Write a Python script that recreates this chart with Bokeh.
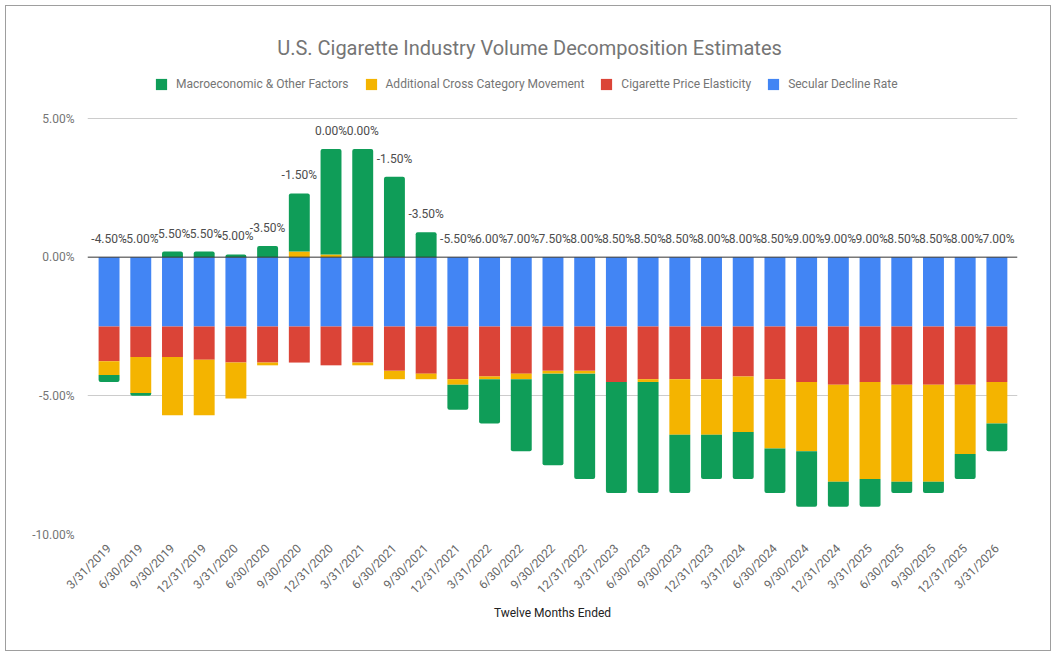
from bokeh.plotting import figure
from bokeh.models import (ColumnDataSource, Range1d, FixedTicker, Span, Legend,
                          LegendItem, Label)
from bokeh.embed import file_html
from bokeh.resources import INLINE
from bokeh.core.properties import value
import math

# Twelve months ended (quarter ends)
periods = ["3/31/2019", "6/30/2019", "9/30/2019", "12/31/2019", "3/31/2020",
           "6/30/2020", "9/30/2020", "12/31/2020", "3/31/2021", "6/30/2021",
           "9/30/2021", "12/31/2021", "3/31/2022", "6/30/2022", "9/30/2022",
           "12/31/2022", "3/31/2023", "6/30/2023", "9/30/2023", "12/31/2023",
           "3/31/2024", "6/30/2024", "9/30/2024", "12/31/2024", "3/31/2025",
           "6/30/2025", "9/30/2025", "12/31/2025", "3/31/2026"]

# Volume components, percentage points
secular_decline = [-2.5, -2.5, -2.5, -2.5, -2.5, -2.5, -2.5, -2.5, -2.5, -2.5,
                   -2.5, -2.5, -2.5, -2.5, -2.5, -2.5, -2.5, -2.5, -2.5, -2.5,
                   -2.5, -2.5, -2.5, -2.5, -2.5, -2.5, -2.5, -2.5, -2.5]
price_elasticity = [-1.25, -1.1, -1.1, -1.2, -1.3, -1.3, -1.3, -1.4, -1.3, -1.6,
                    -1.7, -1.9, -1.8, -1.7, -1.6, -1.6, -2.0, -1.9, -1.9, -1.9,
                    -1.8, -1.9, -2.0, -2.1, -2.0, -2.1, -2.1, -2.1, -2.0]
cross_category = [-0.5, -1.3, -2.1, -2.0, -1.3, -0.1, 0.2, 0.1, -0.1, -0.3,
                  -0.2, -0.2, -0.1, -0.2, -0.1, -0.1, 0.0, -0.1, -2.0, -2.0,
                  -2.0, -2.5, -2.5, -3.5, -3.5, -3.5, -3.5, -2.5, -1.5]
macro_other = [-0.25, -0.1, 0.2, 0.2, 0.1, 0.4, 2.1, 3.8, 3.9, 2.9,
               0.9, -0.9, -1.6, -2.6, -3.3, -3.8, -4.0, -4.0, -2.1, -1.6,
               -1.7, -1.6, -2.0, -0.9, -1.0, -0.4, -0.4, -0.9, -1.0]

y_ticks = [-10, -5, 0, 5]

series = [
    ("Secular Decline Rate", secular_decline, "#4285f4"),
    ("Cigarette Price Elasticity", price_elasticity, "#db4437"),
    ("Additional Cross Category Movement", cross_category, "#f4b400"),
    ("Macroeconomic & Other Factors", macro_other, "#0f9d58"),
]

FONT = "Roboto"
n = len(periods)
xs = list(range(n))
BAR_W = 0.66

# Canvas 1046x646; the data area (-10 .. 5) is 416px tall and its top sits 112px
# below the canvas top; the frame runs to the canvas top so the header fits inside.
W, H = 1046, 646
LEFT, RIGHT, BOTTOM = 81, 35, 118
PLOT_H, HEADER = 416, 112
px_per_unit = PLOT_H / 15.0
y_top = 5 + HEADER / px_per_unit
frame_h = H - BOTTOM

p = figure(width=W, height=H, output_backend="svg", toolbar_location=None,
           x_range=Range1d(-0.68, 28.65), y_range=Range1d(-10, y_top),
           min_border_left=LEFT, min_border_right=RIGHT, min_border_top=0,
           min_border_bottom=BOTTOM)
p.margin = (5, 0, 0, 5)
p.styles = {"border": "1px solid #9e9e9e"}
p.outline_line_color = None
p.background_fill_color = "white"
p.border_fill_color = "white"

# Stack positives upward and negatives downward, in series order
pos_base = [0.0] * n
neg_base = [0.0] * n
renderers = {}
for name, vals, color in series:
    bottoms, tops = [], []
    for i, v in enumerate(vals):
        if v >= 0:
            bottoms.append(pos_base[i])
            tops.append(pos_base[i] + v)
            pos_base[i] += v
        else:
            tops.append(neg_base[i])
            bottoms.append(neg_base[i] + v)
            neg_base[i] += v
    if name == "Macroeconomic & Other Factors":
        up = [i for i, v in enumerate(vals) if v >= 0]
        dn = [i for i, v in enumerate(vals) if v < 0]
        src_up = ColumnDataSource(dict(x=[xs[i] for i in up],
                                       top=[tops[i] for i in up],
                                       bottom=[bottoms[i] for i in up]))
        src_dn = ColumnDataSource(dict(x=[xs[i] for i in dn],
                                       top=[tops[i] for i in dn],
                                       bottom=[bottoms[i] for i in dn]))
        p.vbar(x="x", top="top", bottom="bottom", width=BAR_W, source=src_up,
               fill_color=color, line_color=None, border_radius=(2, 2, 0, 0))
        r = p.vbar(x="x", top="top", bottom="bottom", width=BAR_W, source=src_dn,
                   fill_color=color, line_color=None, border_radius=(0, 0, 2, 2))
    else:
        src = ColumnDataSource(dict(x=xs, top=tops, bottom=bottoms))
        r = p.vbar(x="x", top="top", bottom="bottom", width=BAR_W, source=src,
                   fill_color=color, line_color=None)
    renderers[name] = r

# Net change labels above each stack
totals = [round(a + b + c + d, 2) + 0.0 for a, b, c, d in
          zip(secular_decline, price_elasticity, cross_category, macro_other)]
label_src = ColumnDataSource(dict(
    x=xs, y=pos_base, text=[f"{t:.2f}%" for t in totals]))
p.text(x="x", y="y", text="text", source=label_src, y_offset=-18,
       text_align="center", text_baseline="middle",
       text_font=value(FONT), text_font_size="12px", text_color="#4d4d4d")

# Zero baseline
p.add_layout(Span(location=0, dimension="width", line_color="#333333",
                  line_width=1))

# Axes
p.yaxis.ticker = FixedTicker(ticks=y_ticks)
p.yaxis.major_label_overrides = {t: f"{t:.2f}%" for t in y_ticks}
p.yaxis.axis_line_color = None
p.yaxis.major_tick_line_color = None
p.yaxis.minor_tick_line_color = None
p.yaxis.major_label_standoff = 7
p.yaxis.major_label_text_font = FONT
p.yaxis.major_label_text_font_size = "12px"
p.yaxis.major_label_text_color = "#757575"

p.xaxis.ticker = FixedTicker(ticks=xs)
p.xaxis.major_label_overrides = {i: lab for i, lab in enumerate(periods)}
p.xaxis.major_label_orientation = math.pi / 4
p.xaxis.axis_line_color = None
p.xaxis.major_tick_line_color = None
p.xaxis.minor_tick_line_color = None
p.xaxis.major_label_standoff = 6
p.xaxis.major_label_text_font = FONT
p.xaxis.major_label_text_font_size = "12px"
p.xaxis.major_label_text_color = "#666666"
p.xaxis.axis_label = "Twelve Months Ended"
p.xaxis.axis_label_text_font = FONT
p.xaxis.axis_label_text_font_size = "12px"
p.xaxis.axis_label_text_font_style = "normal"
p.xaxis.axis_label_text_color = "#222222"
p.xaxis.axis_label_standoff = 1

p.xgrid.grid_line_color = None
p.ygrid.grid_line_color = "#cccccc"
p.ygrid.ticker = FixedTicker(ticks=[t for t in y_ticks if t != 0])

# Chart title, centred on the whole canvas
p.add_layout(Label(x=W / 2 - LEFT, y=frame_h - 41, x_units="screen",
                   y_units="screen",
                   text="U.S. Cigarette Industry Volume Decomposition Estimates",
                   text_align="center", text_baseline="middle",
                   text_font=FONT, text_font_size="20px", text_color="#757575"))

# Legend row between title and plot area
legend_order = ["Macroeconomic & Other Factors", "Additional Cross Category Movement",
                "Cigarette Price Elasticity", "Secular Decline Rate"]
legend = Legend(items=[LegendItem(label=nm, renderers=[renderers[nm]])
                       for nm in legend_order],
                orientation="horizontal", location=(67, frame_h - 85),
                padding=0, margin=0, spacing=15, label_standoff=8,
                glyph_width=14, glyph_height=14, label_height=14,
                border_line_color=None, background_fill_alpha=0,
                label_text_font=FONT, label_text_font_size="12px",
                label_text_color="#757575")
p.add_layout(legend)

open("out.html", "w").write(file_html(p, INLINE))
